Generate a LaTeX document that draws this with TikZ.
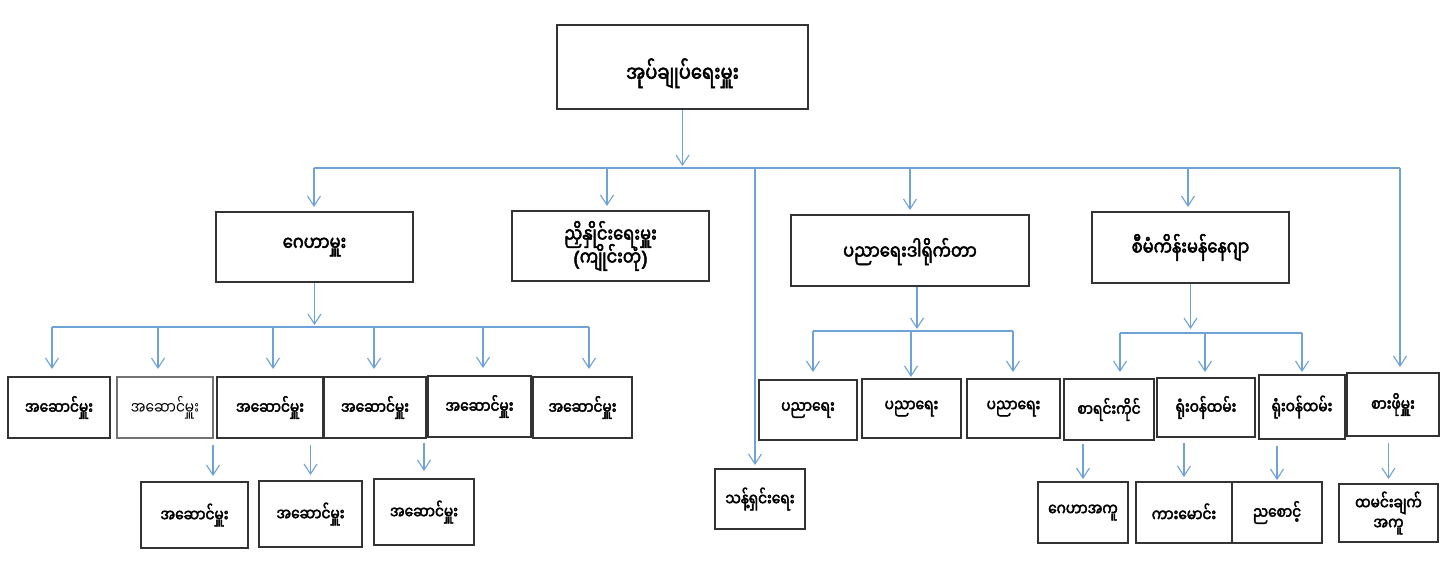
\documentclass[tikz,border=0pt]{standalone}
\usepackage{fontspec}
\newfontfamily\mm[Script=Myanmar,FakeStretch=0.8]{Noto Sans Myanmar UI}
\newfontfamily\mmb[Script=Myanmar,FakeStretch=0.8,FakeBold=2.4]{Noto Sans Myanmar UI}
\newfontfamily\pfont[FakeBold=2.4]{Noto Sans}
\usetikzlibrary{arrows.meta}
\lineskiplimit=-100pt
\definecolor{linec}{HTML}{6FA3D8}
\definecolor{boxc}{HTML}{333333}
\tikzset{
  conn/.style={draw=linec, line width=0.55pt},
  arr/.style={conn, -{Straight Barb[length=5pt,width=6.5pt,line width=0.55pt]}},
  box/.style={draw=boxc, line width=1pt, fill=white, inner sep=0pt, align=center,
    font=\mmb\fontsize{8.6}{10}\selectfont},
  lightbox/.style={draw=black!55, font=\mm\fontsize{8.6}{10}\selectfont},
  midbox/.style={font=\mmb\fontsize{10.2}{11.5}\selectfont},
  lowbox/.style={text height=9pt, text depth=0pt},
  topbox/.style={font=\mmb\fontsize{11.2}{13}\selectfont, text height=15pt, text depth=0pt}
}
\newcommand\mybox[7]{\node[box,#6,minimum width={(#4-#2)*0.5pt},minimum height={(#5-#3)*0.5pt}] (#1) at ({(#2+#4)/2},{(#3+#5)/2}) {#7};}
\begin{document}
\begin{tikzpicture}[x=0.5pt,y=-0.5pt]
\useasboundingbox[fill=white] (0,0) rectangle (1446,576);
% level 0
\mybox{top}{557}{25}{808}{109}{topbox}{အုပ်ချုပ်ရေးမှူး}
% level 1
\mybox{gm}{216}{212}{413}{282}{midbox}{ဂေဟာမှူး}
\mybox{nn}{512}{211}{709}{281}{midbox}{ညှိနှိုင်းရေးမှူး\\{\pfont(}ကျိုင်းတုံ{\pfont)}}
\mybox{pd}{791}{215}{1029}{286}{midbox,lowbox}{ပညာရေးဒါရိုက်တာ}
\mybox{sm}{1092}{212}{1289}{283}{midbox}{စီမံကိန်းမန်နေဂျာ}
% level 2 left
\mybox{a1}{8}{377}{110}{438}{}{အဆောင်မှူး}
\mybox{a2}{117}{377}{213}{438}{lightbox}{အဆောင်မှူး}
\mybox{a3}{217}{377}{323}{438}{}{အဆောင်မှူး}
\mybox{a4}{324}{377}{426}{438}{}{အဆောင်မှူး}
\mybox{a5}{428}{376}{531}{437}{}{အဆောင်မှူး}
\mybox{a6}{533}{377}{632}{438}{}{အဆောင်မှူး}
% level 3 left
\mybox{c1}{141}{482}{248}{548}{}{အဆောင်မှူး}
\mybox{c2}{259}{481}{362}{547}{}{အဆောင်မှူး}
\mybox{c3}{374}{479}{474}{545}{}{အဆောင်မှူး}
% middle
\mybox{sn}{715}{469}{805}{529}{}{သန့်ရှင်းရေး}
\mybox{p1}{759}{380}{857}{440}{}{ပညာရေး}
\mybox{p2}{862}{379}{961}{438}{}{ပညာရေး}
\mybox{p3}{967}{379}{1060}{438}{}{ပညာရေး}
% right
\mybox{s1}{1064}{379}{1154}{440}{}{စာရင်းကိုင်}
\mybox{s2}{1157}{378}{1255}{437}{}{ရုံးဝန်ထမ်း}
\mybox{s3}{1259}{375}{1345}{439}{}{ရုံးဝန်ထမ်း}
\mybox{s4}{1347}{373}{1439}{436}{}{စားဖိုမှူး}
\mybox{t1}{1038}{482}{1128}{543}{}{ဂေဟာအကူ}
\mybox{t2}{1136}{482}{1232}{543}{}{ကားမောင်း}
\mybox{t3}{1232}{482}{1322}{543}{}{ညစောင့်}
\mybox{t4}{1339}{484}{1438}{542}{}{ထမင်းချက်\\အကူ}

% main bus
\coordinate (d1) at (314,168);
\coordinate (d2) at (607,168);
\coordinate (d3) at (755,168);
\coordinate (d4) at (910,168);
\coordinate (d5) at (1188,168);
\coordinate (d6) at (1400,168);
\draw[conn] (d1) -- (d6);
\draw[arr,shorten >=1pt] (top.south) -- (top.south |- d1);
\foreach \d/\n in {d1/gm,d2/nn,d4/pd,d5/sm}
  \draw[arr,shorten >=2pt] (\d) -- (\d |- \n.north);
\draw[arr,shorten >=1.5pt] (d3) -- (d3 |- sn.north);
\draw[arr,shorten >=2.5pt] (d6) -- (d6 |- s4.north);

% bus under gm
\coordinate (g1) at (52,327);
\coordinate (g2) at (158,327);
\coordinate (g3) at (273,327);
\coordinate (g4) at (374,327);
\coordinate (g5) at (483,327);
\coordinate (g6) at (589,327);
\draw[conn] (g1) -- (g6);
\draw[arr,shorten >=1pt] (gm.south) -- (gm.south |- g1);
\foreach \g/\n in {g1/a1,g2/a2,g3/a3,g4/a4,g5/a5,g6/a6}
  \draw[arr,shorten >=3.5pt] (\g) -- (\g |- \n.north);
% level 3 left
\draw[arr,shorten <=3pt,shorten >=2.5pt] ([xshift=-0.5pt]a2.south east) -- ([xshift=-0.5pt]a2.south east |- c1.north);
\draw[arr,shorten <=3pt,shorten >=2.5pt] (c2.north |- a3.south) -- (c2.north);
\draw[arr,shorten <=2pt,shorten >=3.5pt] (c3.north |- a4.south) -- (c3.north);

% bus under pd
\coordinate (q1) at (813,331);
\coordinate (q2) at (911,331);
\coordinate (q3) at (1013,331);
\draw[conn] (q1) -- (q3);
\draw[arr,shorten >=1pt] ([xshift=3.5pt]pd.south) -- ([xshift=3.5pt]pd.south |- q1);
\draw[arr,shorten >=3.5pt] (q1) -- (q1 |- p1.north);
\draw[arr,shorten >=0.5pt] (q2) -- (q2 |- p2.north);
\draw[arr,shorten >=3pt] (q3) -- (q3 |- p3.north);

% bus under sm
\coordinate (r1) at (1120,333);
\coordinate (r2) at (1205,333);
\coordinate (r3) at (1302,333);
\draw[conn] (r1) -- (r3);
\draw[arr,shorten >=2pt] (sm.south) -- (sm.south |- r1);
\draw[arr,shorten >=3pt] (r1) -- (r1 |- s1.north);
\draw[arr,shorten >=2.5pt] (r2) -- (r2 |- s2.north);
\draw[arr,shorten >=1pt] (r3) -- (r3 |- s3.north);
% level 3 right
\draw[arr,shorten <=1.5pt,shorten >=1pt] (t1.north |- s1.south) -- (t1.north);
\draw[arr,shorten <=2.5pt,shorten >=2pt] (t2.north |- s2.south) -- (t2.north);
\draw[arr,shorten <=3pt,shorten >=0.5pt] (t3.north |- s3.south) -- (t3.north);
\draw[arr,shorten <=3pt,shorten >=2pt] (t4.north |- s4.south) -- (t4.north);
\end{tikzpicture}
\end{document}
